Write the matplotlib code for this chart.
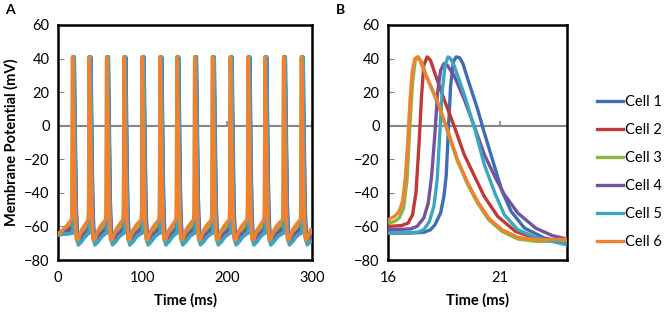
import numpy as np
import matplotlib
matplotlib.use('Agg')
import matplotlib.pyplot as plt

plt.rcParams['font.family'] = ['Lato', 'DejaVu Sans']

# colours of the six cells
cell_names = ['Cell 1', 'Cell 2', 'Cell 3', 'Cell 4', 'Cell 5', 'Cell 6']
cell_colors = ['#3F6DB4', '#BE3A36', '#8DB443', '#7352A0', '#3AA6C0', '#EE8230']

# one spike cycle per cell (time ms, voltage mV),
# plus the slow recovery up to the next spike
cell1_t = [16, 17.0, 17.6, 17.9, 18.1, 18.35, 18.5, 18.6, 18.7, 18.8, 18.92, 19.05, 19.2, 19.35, 19.56, 20.0, 20.3, 20.8, 21.1, 21.5, 22.1, 23.0, 24.0, 28, 32]
cell1_v = [-64, -64, -63.5, -62, -59, -52, -42, -30, -2, 24, 38, 41, 40.5, 37, 28, 10, -4, -26, -39, -51, -61, -67, -69.5, -68, -66]
cell2_t = [16, 16.6, 16.9, 17.1, 17.25, 17.4, 17.5, 17.6, 17.75, 17.9, 18.1, 18.5, 18.95, 19.4, 19.9, 20.3, 20.9, 21.7, 22.7, 24.0, 28, 32]
cell2_v = [-60, -59.5, -58, -53, -40, -8, 18, 36, 41, 39, 31, 16, 0, -17, -31, -42, -54, -63, -67.5, -69, -66, -63]
cell3_t = [16, 16.3, 16.5, 16.7, 16.85, 16.97, 17.1, 17.22, 17.35, 17.5, 17.7, 18.2, 18.65, 19.1, 19.56, 20.0, 20.5, 21.1, 21.8, 22.7, 24.0, 28, 32]
cell3_v = [-58, -57, -55, -49, -32, -2, 26, 39, 41, 38, 30, 14, -3, -21, -35, -46, -56, -63, -67.5, -69, -68.5, -64, -61]
cell4_t = [16, 17.0, 17.3, 17.6, 17.8, 17.95, 18.1, 18.22, 18.35, 18.5, 18.65, 18.95, 19.4, 19.9, 20.3, 20.8, 21.2, 21.8, 22.6, 23.35, 24.0, 28, 32]
cell4_v = [-62, -61.5, -60, -55, -46, -30, -4, 20, 33, 37, 36, 30, 16, -2, -17, -31, -41, -52, -61, -65.5, -67.5, -66, -64]
cell5_t = [16, 17.3, 17.6, 17.85, 18.05, 18.2, 18.3, 18.42, 18.55, 18.68, 18.8, 18.95, 19.4, 19.9, 20.3, 20.8, 21.2, 21.8, 22.7, 24.0, 28, 32]
cell5_v = [-64, -63.5, -62, -57, -48, -32, -8, 20, 36, 41, 40, 36, 19, -3, -23, -41, -53, -62, -67, -71, -69, -66]
cell6_t = [16, 16.3, 16.5, 16.65, 16.77, 16.88, 16.98, 17.08, 17.2, 17.32, 17.45, 17.7, 18.2, 18.65, 19.1, 19.56, 20.0, 20.5, 21.1, 21.8, 22.7, 24.0, 28, 32]
cell6_v = [-56, -54, -51, -45, -32, -10, 14, 32, 40, 41, 38, 30, 15, -2, -20, -34, -45, -55, -62, -66.5, -68, -67.6, -62, -59]

# start of the trace before the first spike (panel A)
pre_t = [0, 8]
pre_v = [[-65, -64.5], [-64, -62], [-65, -61], [-65, -63], [-65, -64.5], [-65, -61]]

spike_shift = [0, 19.6, 40.3, 60.8, 82.3, 103.3, 123.3, 144.3, 165.3,
               186.3, 207.3, 227.3, 249.3, 270.3]

cells_t = [cell1_t, cell2_t, cell3_t, cell4_t, cell5_t, cell6_t]
cells_v = [cell1_v, cell2_v, cell3_v, cell4_v, cell5_v, cell6_v]


def full_trace(i):
    tt = list(pre_t)
    vv = list(pre_v[i])
    for s in spike_shift:
        tt += [t + s for t in cells_t[i]]
        vv += list(cells_v[i])
    tt = np.array(tt)
    vv = np.array(vv)
    keep = tt <= 300
    return tt[keep], vv[keep]


fig = plt.figure(figsize=(6.7, 3.17), dpi=100)
axA = fig.add_axes([58 / 670, 1 - 260 / 317, 254 / 670, 235 / 317])
axB = fig.add_axes([388 / 670, 1 - 260 / 317, 179 / 670, 235 / 317])


def style(ax, xticks, xlim):
    ax.set_xlim(xlim)
    ax.set_ylim(-80, 60)
    ax.set_yticks(np.arange(-80, 61, 20))
    ax.set_xticks(xticks)
    ax.axhline(0, color='#868686', lw=1.5, zorder=1)
    ax.vlines(xticks, 0, 3, color='#868686', lw=1.2, zorder=1)
    ax.tick_params(axis='x', length=0, labelsize=10.5, pad=8)
    ax.tick_params(axis='y', direction='in', length=4, color='#868686',
                   labelsize=10.5, pad=6)
    for sp in ax.spines.values():
        sp.set_linewidth(1.8)
        sp.set_color('black')
    ax.set_xlabel('Time (ms)', fontsize=10.5, fontweight='bold', labelpad=6)


for i in range(6):
    tA, vA = full_trace(i)
    axA.plot(tA, vA, color=cell_colors[i], lw=2.6, zorder=3)
    axB.plot(cells_t[i], cells_v[i], color=cell_colors[i], lw=2.4,
             label=cell_names[i], zorder=3)

style(axA, [0, 100, 200, 300], (0, 300))
style(axB, [16, 21], (16, 24))
axA.set_ylabel('Membrane Potential (mV)', fontsize=10.5, fontweight='bold', labelpad=4)

fig.text(5 / 670, 1 - 10 / 317, 'A', fontsize=10, fontweight='bold', va='center')
fig.text(336 / 670, 1 - 10 / 317, 'B', fontsize=10, fontweight='bold', va='center')

handles, labels = axB.get_legend_handles_labels()
fig.legend(handles, labels, loc='center left', bbox_to_anchor=(597 / 670, 1 - 172 / 317),
           frameon=False, fontsize=10.5, handlelength=1.75, handletextpad=0.15,
           labelspacing=0.95, borderaxespad=0, borderpad=0)

fig.savefig('out.png', dpi=100)
